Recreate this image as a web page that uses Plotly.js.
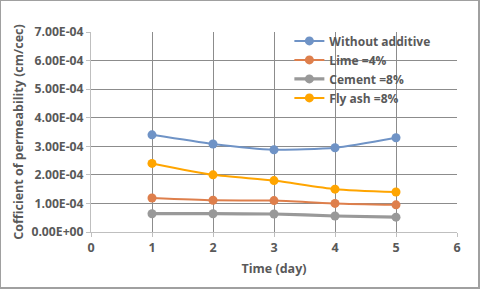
<!DOCTYPE html>
<html><head><meta charset="utf-8">
<script src="https://cdn.plot.ly/plotly-3.0.1.min.js"></script>
<style>html,body{margin:0;padding:0;background:#fff}#c{width:480px;height:289px;box-sizing:border-box;border:1px solid #a0a0a0;border-right:2px solid #a0a0a0;border-bottom:2px solid #a0a0a0}</style>
</head><body><div id="c"></div>
<script>
const days = [1, 2, 3, 4, 5];
const withoutAdditive = [3.4e-4, 3.08e-4, 2.88e-4, 2.95e-4, 3.3e-4];
const lime4 = [1.19e-4, 1.11e-4, 1.1e-4, 1.0e-4, 0.95e-4];
const cement8 = [0.64e-4, 0.64e-4, 0.63e-4, 0.56e-4, 0.52e-4];
const flyAsh8 = [2.4e-4, 2.0e-4, 1.8e-4, 1.5e-4, 1.4e-4];
const names = ["Without additive", "Lime =4%", "Cement =8%", "Fly ash =8%"];
const colors = ["#6F93C6", "#DE7F4C", "#999999", "#FFA500"];
const widths = [2, 2, 3.2, 2];
const series = [withoutAdditive, lime4, cement8, flyAsh8];
const yTicks = [0, 1e-4, 2e-4, 3e-4, 4e-4, 5e-4, 6e-4, 7e-4];
const yTickText = ["0.00E+00","1.00E-04","2.00E-04","3.00E-04","4.00E-04","5.00E-04","6.00E-04","7.00E-04"];

const traces = series.map((s, i) => ({
  x: days, y: s, name: names[i], type: "scatter", mode: "lines+markers",
  line: {color: colors[i], width: widths[i], shape: "spline", smoothing: 0.6},
  marker: {color: colors[i], size: 9}
}));
const fam = "Open Sans, Liberation Sans, sans-serif";
const layout = {
  width: 480, height: 289,
  margin: {l: 90, r: 24, t: 31, b: 58},
  paper_bgcolor: "rgba(0,0,0,0)", plot_bgcolor: "#fff",
  font: {family: fam, color: "#595959", size: 12, weight: "bold"},
  showlegend: true,
  legend: {x: 0.542, y: 1.028, xanchor: "left", yanchor: "top", bgcolor: "rgba(0,0,0,0)",
    font: {family: fam, color: "#595959", size: 12, weight: "bold"}, tracegroupgap: 0, itemwidth: 30},
  xaxis: {range: [0, 6], tickvals: [0,1,2,3,4,5,6], showgrid: true, gridcolor: "#8c8c8c", gridwidth: 1,
    zeroline: false, showline: true, linecolor: "#bfbfbf", ticks: "outside", ticklen: 4, tickcolor: "#bfbfbf",
    title: {text: "Time (day)", font: {family: fam, color: "#595959", size: 12.5, weight: "bold"}, standoff: 9},
    tickfont: {family: fam, color: "#595959", size: 12.5, weight: "bold"}, fixedrange: true},
  yaxis: {range: [0, 7e-4], tickvals: yTicks, ticktext: yTickText, showgrid: true, gridcolor: "#8c8c8c", gridwidth: 1,
    zeroline: false, showline: true, linecolor: "#bfbfbf", ticks: "outside", ticklen: 4, tickcolor: "#bfbfbf",
    title: {text: "Cofficient of permeability (cm/cec)", font: {family: fam, color: "#595959", size: 12.5, weight: "bold"}, standoff: 5},
    tickfont: {family: fam, color: "#595959", size: 12.2, weight: "bold"}, fixedrange: true}
};
Plotly.newPlot("c", traces, layout, {displayModeBar: false, staticPlot: true});
</script></body></html>
